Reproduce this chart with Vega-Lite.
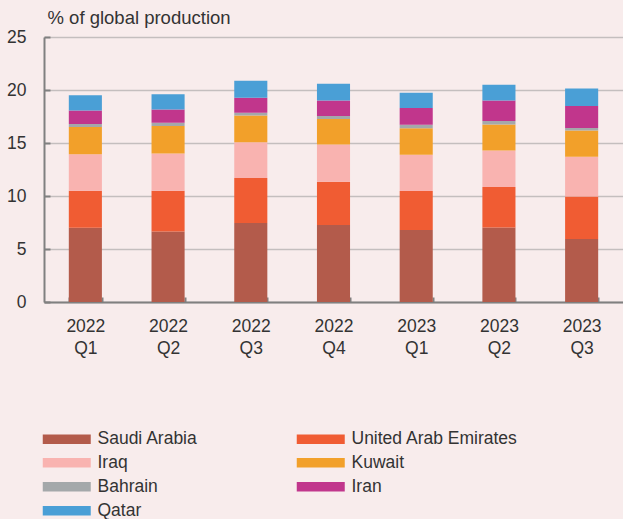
{
  "$schema": "https://vega.github.io/schema/vega-lite/v6.json",
  "width": 579,
  "height": 265,
  "autosize": {"type": "none"},
  "padding": {"left": 44, "top": 37, "right": 0, "bottom": 217},
  "background": "#f8ecec",
  "config": {
    "view": {"stroke": null},
    "font": "Liberation Sans",
    "axis": {"labelFont": "Liberation Sans", "titleFont": "Liberation Sans", "labelColor": "#333333", "titleColor": "#333333"}
  },
  "data": {
    "values": [
      {"q": "2022 Q1", "country": "Saudi Arabia", "v": 7.0},
      {"q": "2022 Q1", "country": "United Arab Emirates", "v": 3.5},
      {"q": "2022 Q1", "country": "Iraq", "v": 3.43},
      {"q": "2022 Q1", "country": "Kuwait", "v": 2.57},
      {"q": "2022 Q1", "country": "Bahrain", "v": 0.3},
      {"q": "2022 Q1", "country": "Iran", "v": 1.27},
      {"q": "2022 Q1", "country": "Qatar", "v": 1.43},
      {"q": "2022 Q2", "country": "Saudi Arabia", "v": 6.66},
      {"q": "2022 Q2", "country": "United Arab Emirates", "v": 3.84},
      {"q": "2022 Q2", "country": "Iraq", "v": 3.5},
      {"q": "2022 Q2", "country": "Kuwait", "v": 2.6},
      {"q": "2022 Q2", "country": "Bahrain", "v": 0.3},
      {"q": "2022 Q2", "country": "Iran", "v": 1.27},
      {"q": "2022 Q2", "country": "Qatar", "v": 1.43},
      {"q": "2022 Q3", "country": "Saudi Arabia", "v": 7.45},
      {"q": "2022 Q3", "country": "United Arab Emirates", "v": 4.25},
      {"q": "2022 Q3", "country": "Iraq", "v": 3.36},
      {"q": "2022 Q3", "country": "Kuwait", "v": 2.54},
      {"q": "2022 Q3", "country": "Bahrain", "v": 0.26},
      {"q": "2022 Q3", "country": "Iran", "v": 1.41},
      {"q": "2022 Q3", "country": "Qatar", "v": 1.61},
      {"q": "2022 Q4", "country": "Saudi Arabia", "v": 7.26},
      {"q": "2022 Q4", "country": "United Arab Emirates", "v": 4.09},
      {"q": "2022 Q4", "country": "Iraq", "v": 3.52},
      {"q": "2022 Q4", "country": "Kuwait", "v": 2.39},
      {"q": "2022 Q4", "country": "Bahrain", "v": 0.29},
      {"q": "2022 Q4", "country": "Iran", "v": 1.47},
      {"q": "2022 Q4", "country": "Qatar", "v": 1.58},
      {"q": "2023 Q1", "country": "Saudi Arabia", "v": 6.79},
      {"q": "2023 Q1", "country": "United Arab Emirates", "v": 3.68},
      {"q": "2023 Q1", "country": "Iraq", "v": 3.43},
      {"q": "2023 Q1", "country": "Kuwait", "v": 2.5},
      {"q": "2023 Q1", "country": "Bahrain", "v": 0.33},
      {"q": "2023 Q1", "country": "Iran", "v": 1.57},
      {"q": "2023 Q1", "country": "Qatar", "v": 1.45},
      {"q": "2023 Q2", "country": "Saudi Arabia", "v": 7.04},
      {"q": "2023 Q2", "country": "United Arab Emirates", "v": 3.81},
      {"q": "2023 Q2", "country": "Iraq", "v": 3.45},
      {"q": "2023 Q2", "country": "Kuwait", "v": 2.45},
      {"q": "2023 Q2", "country": "Bahrain", "v": 0.32},
      {"q": "2023 Q2", "country": "Iran", "v": 1.93},
      {"q": "2023 Q2", "country": "Qatar", "v": 1.5},
      {"q": "2023 Q3", "country": "Saudi Arabia", "v": 5.94},
      {"q": "2023 Q3", "country": "United Arab Emirates", "v": 4.02},
      {"q": "2023 Q3", "country": "Iraq", "v": 3.74},
      {"q": "2023 Q3", "country": "Kuwait", "v": 2.49},
      {"q": "2023 Q3", "country": "Bahrain", "v": 0.22},
      {"q": "2023 Q3", "country": "Iran", "v": 2.08},
      {"q": "2023 Q3", "country": "Qatar", "v": 1.66}
    ]
  },
  "transform": [
    {"calculate": "indexof(['Saudi Arabia', 'United Arab Emirates', 'Iraq', 'Kuwait', 'Bahrain', 'Iran', 'Qatar'], datum.country)", "as": "stackOrder"}
  ],
  "mark": {"type": "bar"},
  "encoding": {
    "x": {
      "field": "q", "type": "nominal", "sort": null,
      "scale": {"paddingInner": 0.6, "paddingOuter": 0.3},
      "axis": {
        "title": null, "labelAngle": 0,
        "labelExpr": "split(datum.label, ' ')",
        "labelFontSize": 17.5, "labelLineHeight": 22, "labelPadding": 20,
        "tickBand": "extent", "tickSize": -5, "tickColor": "#808080", "tickWidth": 2,
        "domainColor": "#808080", "domainWidth": 2
      }
    },
    "y": {
      "field": "v", "type": "quantitative", "aggregate": "sum", "stack": "zero",
      "scale": {"domain": [0, 25]},
      "axis": {
        "values": [0, 5, 10, 15, 20, 25],
        "title": "% of global production", "titleAngle": 0, "titleAlign": "left",
        "titleBaseline": "alphabetic", "titleX": 3, "titleY": -14, "titleFontSize": 18.5, "titleFontWeight": "normal",
        "labelFontSize": 17.5, "labelPadding": 24,
        "tickSize": -6, "tickColor": "#808080", "tickWidth": 2,
        "domainColor": "#808080", "domainWidth": 2,
        "gridColor": "#c4bebe", "gridWidth": 1.5
      }
    },
    "color": {
      "field": "country", "type": "nominal",
      "sort": ["Saudi Arabia", "United Arab Emirates", "Iraq", "Kuwait", "Bahrain", "Iran", "Qatar"],
      "scale": {
        "domain": ["Saudi Arabia", "United Arab Emirates", "Iraq", "Kuwait", "Bahrain", "Iran", "Qatar"],
        "range": ["#b35b4b", "#f05c33", "#f9b3b0", "#f2a02a", "#a4a8aa", "#c1368c", "#4a9fd6"]
      },
      "legend": {
        "title": null, "orient": "none", "legendX": -5, "legendY": 393,
        "direction": "horizontal", "columns": 2, "columnPadding": 95, "rowPadding": 5,
        "symbolType": "M-1,-0.95L8.6,-0.95L8.6,0.95L-1,0.95Z", "symbolSize": 100,
        "symbolStrokeWidth": 0, "labelFontSize": 17.5, "labelLimit": 400, "labelColor": "#333333", "labelOffset": 41, "labelFont": "Liberation Sans"
      }
    },
    "order": {"field": "stackOrder", "type": "quantitative", "sort": "ascending"}
  }
}
